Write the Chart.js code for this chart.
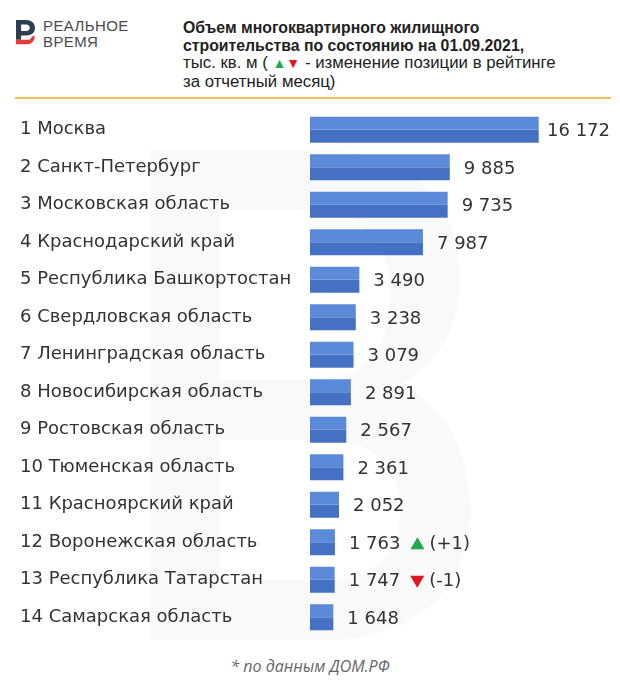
<!DOCTYPE html>
<html>
<head>
<meta charset="utf-8">
<script src="https://cdn.jsdelivr.net/npm/chart.js"></script>
<style>
  body { margin: 0; width: 620px; height: 700px; background: #fff; position: relative; overflow: hidden; }
  #mark { position: absolute; left: 150px; top: 150px; }
  #logo { position: absolute; left: 16px; top: 18px; }
  #brand { position: absolute; left: 43px; top: 18px; font-family: "Liberation Sans", sans-serif; font-size: 15px; line-height: 16px; color: #4a4a4a; letter-spacing: 0.4px; }
  #title { position: absolute; left: 183px; top: 19px; font-family: "Liberation Sans", sans-serif; color: #222; font-size: 16.8px; line-height: 17.5px; white-space: nowrap; }
  #title b { font-size: 15.8px; font-weight: bold; }
  #rule { position: absolute; left: 15px; top: 97px; width: 596px; height: 2px; background: #f2c04f; }
  #wrap { position: absolute; left: 0; top: 111px; width: 620px; height: 525px; }
  #note { position: absolute; left: 0; top: 655px; width: 620px; text-align: center; font-family: "Open Sans", sans-serif; font-style: italic; font-size: 16px; color: #666; }
</style>
</head>
<body>
<svg id="mark" width="320" height="490" viewBox="0 0 320 490">
  <path d="M0 0 H170 C260 0 310 50 310 130 C310 180 285 215 250 235 C295 255 320 300 320 360 C320 440 265 490 175 490 H0 Z M70 60 V230 H165 C215 230 240 200 240 145 C240 90 215 60 165 60 Z M70 290 V430 H170 C225 430 250 405 250 360 C250 315 225 290 170 290 Z" fill="#f9f9f9" fill-rule="evenodd"/>
</svg>
<svg id="logo" width="19" height="29" viewBox="0 0 26 34">
  <path d="M0 0 H14 C22 0 26 5 26 11 C26 17 22 21 14 21 H7 V27 H0 Z M7 6 V15 H14 C17 15 19 13 19 10.5 C19 8 17 6 14 6 Z" fill="#2c3e50"/>
  <path d="M0 27 H16 C19 27 21 25 22 22 L26 22 C25 29 21 33 15 33 H0 Z" fill="#e5393a"/>
</svg>
<div id="brand">РЕАЛЬНОЕ<br>ВРЕМЯ</div>
<div id="title"><b>Объем многоквартирного жилищного<br>строительства по состоянию на 01.09.2021,</b><br>тыс. кв. м ( <span style="color:#1fa84f;font-size:14px">▲</span><span style="color:#e0191e;font-size:14px">▼</span> - изменение позиции в рейтинге<br>за отчетный месяц)</div>
<div id="rule"></div>
<div id="wrap"><canvas id="chart"></canvas></div>
<div id="note">* по данным ДОМ.РФ</div>
<script>
const regions = ['Москва', 'Санкт-Петербург', 'Московская область', 'Краснодарский край',
  'Республика Башкортостан', 'Свердловская область', 'Ленинградская область',
  'Новосибирская область', 'Ростовская область', 'Тюменская область',
  'Красноярский край', 'Воронежская область', 'Республика Татарстан', 'Самарская область'];
const volumes = [16172, 9885, 9735, 7987, 3490, 3238, 3079, 2891, 2567, 2361, 2052, 1763, 1747, 1648];
const rankChange = [0, 0, 0, 0, 0, 0, 0, 0, 0, 0, 0, 1, -1, 0];

const labels = regions.map((r, i) => (i + 1) + ' ' + r);
const fmt = v => String(v).replace(/\B(?=(\d{3})+(?!\d))/g, ' ');

const valueLabels = {
  id: 'valueLabels',
  afterDatasetsDraw(chart) {
    const ctx = chart.ctx;
    const meta = chart.getDatasetMeta(0);
    const yScale = chart.scales.y;
    ctx.save();
    ctx.font = '18px "DejaVu Sans"';
    ctx.textBaseline = 'middle';
    ctx.textAlign = 'left';
    volumes.forEach((v, i) => {
      const txt = fmt(v);
      const w = ctx.measureText(txt).width;
      const x = Math.min(meta.data[i].x + 14, 610 - w);
      const y = yScale.getPixelForValue(i) + 2;
      ctx.fillStyle = '#333';
      ctx.fillText(txt, x, y);
      const ch = rankChange[i];
      if (ch !== 0) {
        const tx = x + w + 10;
        ctx.beginPath();
        if (ch > 0) {
          ctx.fillStyle = '#1fa84f';
          ctx.moveTo(tx, y + 5); ctx.lineTo(tx + 14, y + 5); ctx.lineTo(tx + 7, y - 7);
        } else {
          ctx.fillStyle = '#e0191e';
          ctx.moveTo(tx, y - 6); ctx.lineTo(tx + 14, y - 6); ctx.lineTo(tx + 7, y + 6);
        }
        ctx.closePath();
        ctx.fill();
        ctx.fillStyle = '#333';
        ctx.fillText('(' + (ch > 0 ? '+' : '') + ch + ')', tx + 19, y);
      }
    });
    ctx.restore();
  }
};

new Chart(document.getElementById('chart'), {
  type: 'bar',
  data: {
    labels: labels,
    datasets: [{
      data: volumes,
      backgroundColor: '#5b8bd8',
      barPercentage: 1,
      categoryPercentage: 0.694
    }, {
      data: volumes,
      backgroundColor: '#4471c4',
      barPercentage: 1,
      categoryPercentage: 0.694
    }]
  },
  options: {
    indexAxis: 'y',
    responsive: true,
    maintainAspectRatio: false,
    animation: false,
    layout: { padding: { left: 20, right: 13, top: 0, bottom: 0 } },
    plugins: { legend: { display: false }, tooltip: { enabled: false } },
    scales: {
      x: { display: false, min: 0, max: 21000 },
      y: {
        grid: { display: false },
        border: { display: false },
        afterFit: s => { s.width = 290; s.paddingTop = 0; s.paddingBottom = 0; },
        ticks: {
          crossAlign: 'far',
          color: '#333',
          font: { family: '"DejaVu Sans"', size: 18 }
        }
      }
    }
  },
  plugins: [valueLabels]
});
</script>
</body>
</html>
